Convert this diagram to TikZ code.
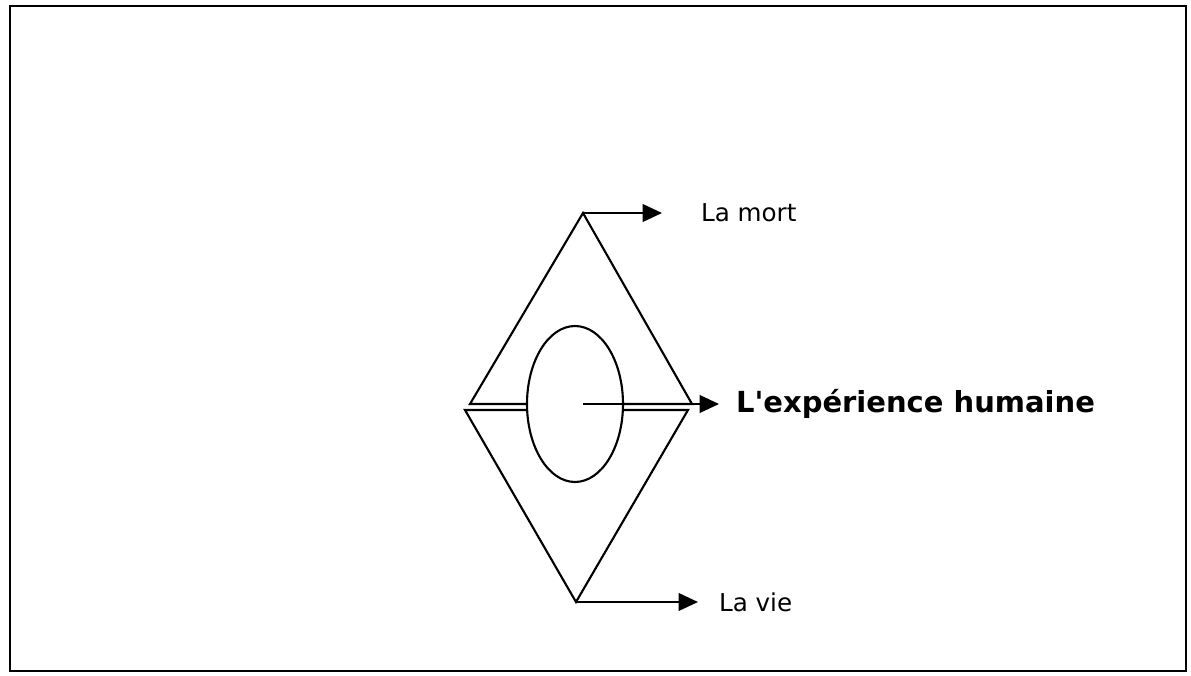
\documentclass[tikz,border=0pt]{standalone}
\usepackage{fontspec}
\setmainfont{DejaVu Sans}
\usetikzlibrary{arrows.meta}

\begin{document}
\begin{tikzpicture}[x=0.02cm, y=-0.02cm, line width=1.2pt,
    fleche/.style={-{Triangle[length=11pt,width=10pt]}},
    etiquette/.style={anchor=west, inner sep=0pt, font=\fontsize{14}{16}\selectfont}]
    \useasboundingbox (0,0) rectangle (1191,676);

    % Page frame
    \draw[line width=1.4pt] (10,6) rectangle (1186,671);

    % Key points of the diamond
    \coordinate (sommet) at (583,213);
    \coordinate (fond) at (576,602);
    \coordinate (centre) at (575,404);
    \coordinate (depart) at (583,404);

    % Upper triangle (base broken by the ellipse)
    \draw (527,404) -- (470,404) -- (sommet) -- (692,404) -- (623,404);

    % Lower triangle
    \draw (527,410) -- (465,410) -- (fond) -- (688,410) -- (623,410);

    % Ellipse in the middle
    \draw (centre) ellipse [x radius=0.96cm, y radius=1.56cm];

    % Labels
    \node[etiquette] (mort) at (700,213) {La mort};
    \node[etiquette, font=\bfseries\fontsize{16.5}{19}\selectfont] (exp) at (735,404) {L\textquotesingle expérience humaine};
    \node[etiquette] (vie) at (718,602) {La vie};

    % Arrow ends
    \coordinate (finmort) at (662,213);
    \coordinate (finexp) at (719,404);
    \coordinate (finvie) at (698,602);

    \draw[fleche] (sommet) -- (finmort);
    \draw[fleche] (depart) -- (finexp);
    \draw[fleche] (fond) -- (finvie);
\end{tikzpicture}
\end{document}
